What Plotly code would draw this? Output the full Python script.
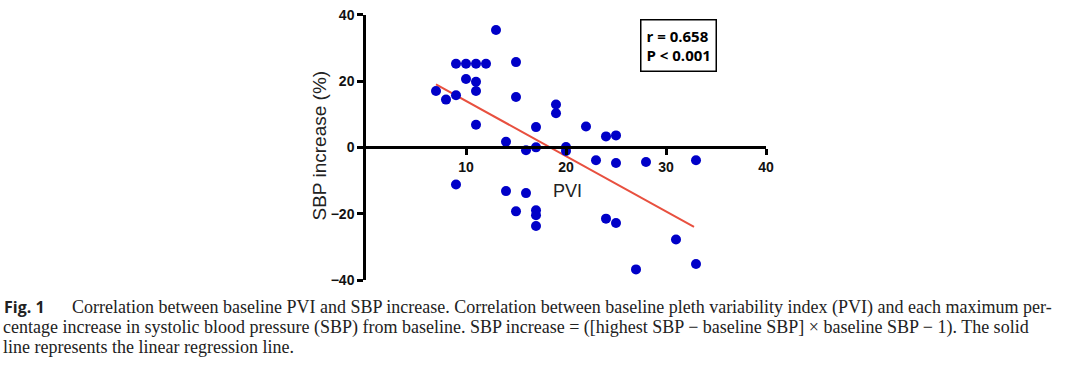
import plotly.graph_objects as go

# Data
pvi = [7, 8, 9, 9, 10, 11, 12, 10, 11, 11, 11, 13, 15, 15, 14, 16, 17, 17, 19, 19,
       20, 20, 22, 23, 24, 25, 25, 28, 33, 9, 14, 16, 15, 17, 17, 17, 24, 25, 31, 33, 27]
sbp_increase = [17.0, 14.4, 15.7, 25.2, 25.2, 25.2, 25.2, 20.6, 19.8, 17.0, 6.8, 35.4, 25.7,
                15.2, 1.7, -0.9, 6.1, 0.0, 12.9, 10.3, 0.1, -1.1, 6.3, -3.9, 3.3, 3.6,
                -4.7, -4.4, -3.9, -11.2, -13.2, -13.8, -19.3, -19.0, -20.5, -23.7, -21.5,
                -22.8, -27.8, -35.2, -36.8]
reg_x = [7.0, 32.8]
reg_y = [19.0, -24.0]
x_ticks = [10, 20, 30, 40]
y_ticks = [-40, -20, 0, 20, 40]
stats_text = "r = 0.658<br>P < 0.001"
caption_lines = [
    "Correlation between baseline PVI and SBP increase. Correlation between baseline pleth variability index (PVI) and each maximum per-",
    "centage increase in systolic blood pressure (SBP) from baseline. SBP increase = ([highest SBP \u2212 baseline SBP] \u00d7 baseline SBP \u2212 1). The solid",
    "line represents the linear regression line.",
]

W, H = 1080, 371
x0px, x1px = 366, 766
ytop, ybot = 14.7, 280
zero_px = 147

fig = go.Figure()
fig.add_trace(go.Scatter(x=reg_x, y=reg_y, mode="lines",
                         line=dict(color="#E8503F", width=2), showlegend=False))
fig.add_trace(go.Scatter(x=pvi, y=sbp_increase, mode="markers",
                         marker=dict(color="#0000C8", size=10, line=dict(width=0)),
                         showlegend=False))

axis_font = dict(family="Liberation Sans, Arial, sans-serif", size=14, color="#111", weight="bold")
fig.update_layout(
    width=W, height=H,
    margin=dict(l=0, r=0, t=0, b=0),
    paper_bgcolor="white", plot_bgcolor="white",
    xaxis=dict(domain=[x0px / W, x1px / W], range=[0, 40], tickvals=x_ticks,
               showgrid=False, zeroline=False, showline=True, linecolor="black",
               linewidth=2.5, ticks="outside", ticklen=6, tickwidth=2.5, tickcolor="black",
               anchor="free", position=1 - zero_px / H, tickfont=axis_font,
               automargin=False),
    yaxis=dict(domain=[1 - ybot / H, 1 - ytop / H], range=[-40, 40], tickvals=y_ticks,
               showgrid=False, zeroline=False, showline=True, linecolor="black",
               linewidth=2.5, ticks="outside", ticklen=6, tickwidth=2.5, tickcolor="black",
               tickfont=axis_font, automargin=False),
)

fig.add_annotation(x=567 / W, y=1 - 191 / H, xref="paper", yref="paper",
                   text="PVI", showarrow=False,
                   font=dict(family="Liberation Sans, Arial, sans-serif", size=18, color="#222"))
fig.add_annotation(x=306 / W, y=1 - 146 / H, xref="paper", yref="paper",
                   text="SBP increase (%)", showarrow=False, textangle=-90,
                   font=dict(family="Liberation Sans, Arial, sans-serif", size=19, color="#222"))
fig.add_annotation(x=639.5 / W, y=1 - 19 / H, xref="paper", yref="paper",
                   xanchor="left", yanchor="top", align="left",
                   text=stats_text, showarrow=False,
                   bordercolor="black", borderwidth=1.5, borderpad=5,
                   font=dict(family="Open Sans, Liberation Sans, sans-serif", size=15,
                             color="black", weight="bold"))

serif = dict(family="Liberation Serif, Times New Roman, serif", size=18, color="#222")
fig.add_annotation(x=2 / W, y=1 - 307 / H, xref="paper", yref="paper",
                   xanchor="left", yanchor="middle", text="<b>Fig. 1</b>", showarrow=False,
                   font=dict(family="Open Sans, Liberation Sans, sans-serif", size=16, color="#222"))
line_pos = [(70, 307), (1, 327), (1, 347)]
for (lx, ly), txt in zip(line_pos, caption_lines):
    fig.add_annotation(x=lx / W, y=1 - ly / H, xref="paper", yref="paper",
                       xanchor="left", yanchor="middle", text=txt, showarrow=False,
                       font=serif)

fig.write_html("out.html", config={"displayModeBar": False},
               post_script="document.body.style.margin='0';")
